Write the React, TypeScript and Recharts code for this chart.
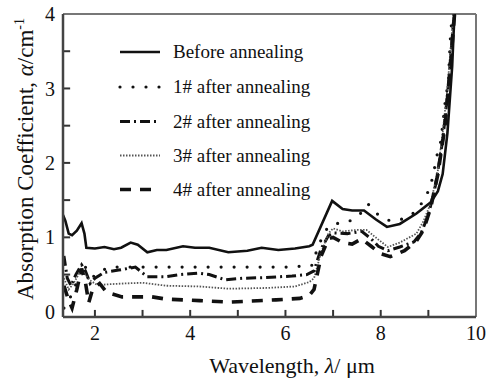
import React from 'react';
import { LineChart, Line, XAxis, YAxis, ReferenceLine } from 'recharts';

type Pt = [number, number];

const beforeAnnealing: Pt[] = [
  [1.33, 1.3], [1.38, 1.22], [1.45, 1.05], [1.52, 1.03], [1.62, 1.09], [1.72, 1.19], [1.78, 1.05],
  [1.82, 0.86], [2.0, 0.85], [2.2, 0.87], [2.4, 0.84], [2.55, 0.86], [2.75, 0.93], [2.9, 0.9],
  [3.1, 0.8], [3.3, 0.83], [3.5, 0.83], [3.85, 0.88], [4.1, 0.86], [4.4, 0.86], [4.8, 0.8],
  [5.2, 0.82], [5.5, 0.86], [5.85, 0.83], [6.2, 0.85], [6.5, 0.88], [6.57, 0.9], [6.98, 1.49],
  [7.2, 1.38], [7.4, 1.36], [7.65, 1.36], [7.9, 1.24], [8.13, 1.14], [8.4, 1.18], [8.75, 1.32],
  [9.05, 1.47], [9.2, 1.62], [9.3, 1.85], [9.4, 2.4], [9.45, 2.85], [9.5, 3.3], [9.53, 3.75], [9.55, 4.0],
];

const after1: Pt[] = [
  [1.35, 0.05], [1.48, 0.19], [1.58, 0.34], [1.69, 0.5], [1.76, 0.64], [1.85, 0.55], [1.96, 0.47],
  [2.1, 0.54], [2.3, 0.6], [2.6, 0.6], [3.0, 0.6], [4.0, 0.6], [5.0, 0.6], [6.0, 0.6], [6.55, 0.62],
  [6.7, 0.9], [6.85, 1.1], [7.0, 1.18], [7.3, 1.2], [7.55, 1.3], [7.73, 1.45], [7.95, 1.3],
  [8.2, 1.22], [8.5, 1.25], [8.75, 1.35], [8.95, 1.55], [9.05, 1.7], [9.12, 1.9], [9.18, 2.1],
  [9.25, 2.25], [9.3, 2.5], [9.35, 2.8], [9.42, 3.1], [9.46, 3.65], [9.5, 4.0],
];

const after2: Pt[] = [
  [1.35, 0.75], [1.42, 0.45], [1.5, 0.35], [1.6, 0.5], [1.72, 0.63], [1.8, 0.55], [1.9, 0.38],
  [2.0, 0.45], [2.2, 0.53], [2.5, 0.56], [2.85, 0.6], [3.1, 0.47], [3.47, 0.47], [3.8, 0.5],
  [4.16, 0.52], [4.4, 0.5], [4.73, 0.43], [5.1, 0.45], [5.57, 0.46], [6.14, 0.48], [6.45, 0.5],
  [6.6, 0.55], [6.75, 0.85], [6.9, 1.02], [7.0, 1.06], [7.3, 1.05], [7.6, 1.08], [7.8, 0.98],
  [7.95, 0.88], [8.15, 0.82], [8.4, 0.87], [8.7, 0.94], [8.85, 1.06], [9.0, 1.3], [9.15, 1.7],
  [9.3, 2.3], [9.4, 2.9], [9.48, 3.5], [9.54, 4.0],
];

const after3: Pt[] = [
  [1.35, 0.45], [1.45, 0.3], [1.55, 0.38], [1.7, 0.55], [1.8, 0.5], [1.9, 0.42], [2.05, 0.36],
  [2.3, 0.37], [2.6, 0.38], [3.0, 0.39], [3.5, 0.35], [4.2, 0.34], [4.8, 0.31], [5.6, 0.32],
  [6.2, 0.34], [6.5, 0.4], [6.6, 0.45], [6.75, 0.8], [6.9, 1.05], [7.0, 1.12], [7.2, 1.08],
  [7.5, 1.1], [7.7, 1.1], [7.95, 0.97], [8.15, 0.87], [8.4, 0.93], [8.75, 1.05], [8.9, 1.22],
  [9.05, 1.46], [9.2, 1.9], [9.3, 2.4], [9.4, 3.0], [9.5, 3.8], [9.53, 4.0],
];

const after4: Pt[] = [
  [1.35, 0.35], [1.45, 0.15], [1.52, 0.05], [1.62, 0.3], [1.72, 0.58], [1.8, 0.4], [1.87, 0.12],
  [1.95, 0.3], [2.1, 0.38], [2.25, 0.26], [2.57, 0.2], [3.2, 0.2], [3.5, 0.17], [4.2, 0.15],
  [4.8, 0.13], [5.8, 0.16], [6.3, 0.18], [6.5, 0.22], [6.6, 0.3], [6.75, 0.75], [6.9, 0.98],
  [7.0, 1.0], [7.2, 0.93], [7.4, 0.91], [7.6, 0.98], [7.8, 0.88], [8.0, 0.78], [8.2, 0.74],
  [8.5, 0.82], [8.75, 0.95], [8.9, 1.1], [9.05, 1.4], [9.2, 1.85], [9.35, 2.5], [9.45, 3.2], [9.55, 4.0],
];

const seriesNames = [
  'Before annealing',
  '1# after annealing',
  '2# after annealing',
  '3# after annealing',
  '4# after annealing',
];

const X_MIN = 1.33;
const X_MAX = 10;
const Y_MIN = -0.07;
const Y_MAX = 4;

const xTicks = [2, 3, 4, 5, 6, 7, 8, 9, 10];
const xTickLabels = ['2', '', '4', '', '6', '', '8', '', '10'];
const yTicks = [0, 0.5, 1, 1.5, 2, 2.5, 3, 3.5, 4];
const yTickLabels = ['0', '', '1', '', '2', '', '3', '', '4'];

// inward tick length in data units (about 7 px)
const X_TICK_LEN = 0.095;
const Y_TICK_LEN = 0.15;

const FONT = 'Liberation Serif';

const seriesData = [beforeAnnealing, after1, after2, after3, after4].map((pts) =>
  pts.map(([x, y]) => ({ x, y }))
);

const lineStyles = [
  { stroke: '#111', strokeWidth: 2.6, dash: undefined as string | undefined, cap: 'butt' as const },
  { stroke: '#111', strokeWidth: 3.2, dash: '0 13', cap: 'round' as const },
  { stroke: '#111', strokeWidth: 3, dash: '10 4 2 4', cap: 'butt' as const },
  { stroke: '#555', strokeWidth: 1.8, dash: '1.5 1.5', cap: 'butt' as const },
  { stroke: '#111', strokeWidth: 3.6, dash: '11 9', cap: 'butt' as const },
];

const legendRows = [52, 87, 121.5, 155.5, 189.5];

export default function App() {
  return (
    <div style={{ position: 'absolute', left: 0, top: 0, width: 491, height: 385, background: '#fff', fontFamily: FONT }}>
      <LineChart width={491} height={385} margin={{ top: 14, right: 15, bottom: 0, left: 0 }}>
        <XAxis
          type="number"
          dataKey="x"
          domain={[X_MIN, X_MAX]}
          ticks={xTicks}
          interval={0}
          allowDataOverflow
          height={68}
          tickSize={0}
          tickLine={false}
          tickMargin={9}
          tickFormatter={(v: number) => xTickLabels[xTicks.indexOf(v)] ?? ''}
          axisLine={{ stroke: '#444', strokeWidth: 2.5 }}
          tick={{ fill: '#111', fontSize: 20, fontFamily: FONT }}
          label={{
            content: () => (
              <text x={292} y={373} textAnchor="middle" fontSize={22} fontFamily={FONT} fill="#111">
                Wavelength, <tspan fontStyle="italic">λ</tspan>/ μm
              </text>
            ),
          }}
        />
        <YAxis
          type="number"
          domain={[Y_MIN, Y_MAX]}
          ticks={yTicks}
          interval={0}
          allowDataOverflow
          width={63}
          tickSize={0}
          tickLine={false}
          tickMargin={8}
          tickFormatter={(v: number) => yTickLabels[yTicks.indexOf(v)] ?? ''}
          axisLine={{ stroke: '#444', strokeWidth: 2.5 }}
          tick={{ fill: '#111', fontSize: 20, fontFamily: FONT }}
          label={{
            content: () => (
              <text
                x={33}
                y={159}
                transform="rotate(-90 33 159)"
                textAnchor="middle"
                fontSize={23}
                fontFamily={FONT}
                fill="#111"
              >
                Absorption Coefficient, <tspan fontStyle="italic">α</tspan>/cm
                <tspan fontSize={14} dy={-9}>-1</tspan>
              </text>
            ),
          }}
        />
        <ReferenceLine y={Y_MAX} stroke="#777" strokeWidth={2} ifOverflow="visible" />
        <ReferenceLine x={X_MAX} stroke="#777" strokeWidth={2} ifOverflow="visible" />
        {xTicks.slice(0, -1).map((t) => (
          <ReferenceLine
            key={'xt' + t}
            segment={[{ x: t, y: Y_MIN }, { x: t, y: Y_MIN + X_TICK_LEN }]}
            stroke="#333"
            strokeWidth={2}
            ifOverflow="visible"
          />
        ))}
        {yTicks.slice(1, -1).map((t) => (
          <ReferenceLine
            key={'yt' + t}
            segment={[{ x: X_MIN, y: t }, { x: X_MIN + Y_TICK_LEN, y: t }]}
            stroke="#333"
            strokeWidth={2}
            ifOverflow="visible"
          />
        ))}
        {seriesData.map((d, i) => (
          <Line
            key={seriesNames[i]}
            data={d}
            dataKey="y"
            name={seriesNames[i]}
            type="linear"
            stroke={lineStyles[i].stroke}
            strokeWidth={lineStyles[i].strokeWidth}
            strokeDasharray={lineStyles[i].dash}
            strokeLinecap={lineStyles[i].cap}
            dot={false}
            activeDot={false}
            isAnimationActive={false}
          />
        ))}
      </LineChart>
      <svg
        width={491}
        height={385}
        style={{ position: 'absolute', left: 0, top: 0, pointerEvents: 'none' }}
      >
        {seriesNames.map((name, i) => (
          <g key={name}>
            <line
              x1={120}
              x2={160}
              y1={legendRows[i]}
              y2={legendRows[i]}
              stroke={lineStyles[i].stroke}
              strokeWidth={lineStyles[i].strokeWidth}
              strokeDasharray={lineStyles[i].dash}
              strokeLinecap={lineStyles[i].cap}
            />
            <text x={173} y={legendRows[i] + 6} fontSize={19} fontFamily={FONT} fill="#111">
              {name}
            </text>
          </g>
        ))}
      </svg>
    </div>
  );
}
